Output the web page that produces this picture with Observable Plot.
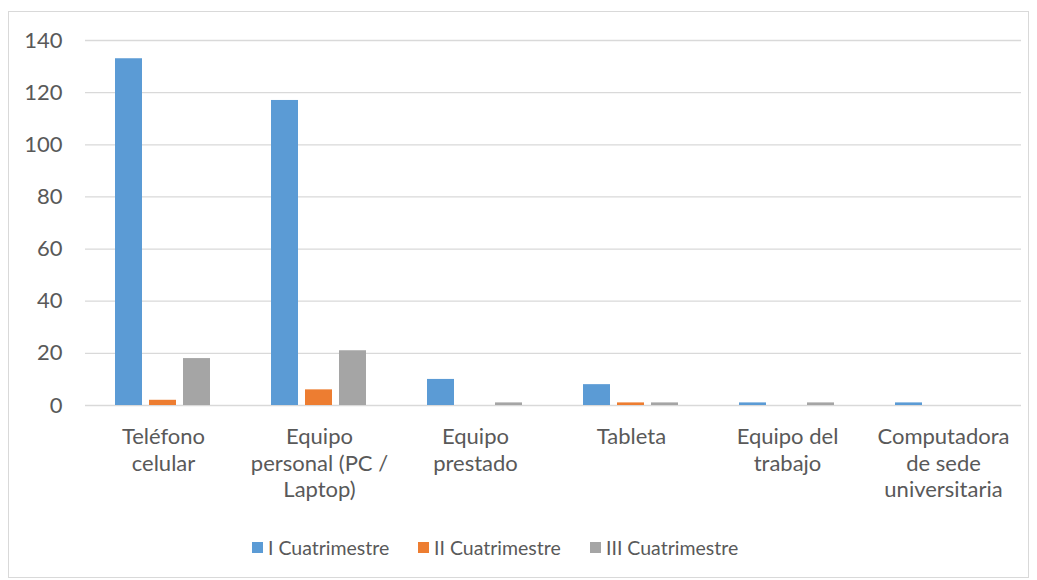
<!DOCTYPE html>
<html>
<head>
<meta charset="utf-8">
<script src="https://cdn.jsdelivr.net/npm/d3@7"></script>
<script src="https://cdn.jsdelivr.net/npm/@observablehq/plot@0.6"></script>
<style>
  html, body { margin: 0; padding: 0; background: #fff; }
  body { width: 1037px; height: 580px; position: relative; overflow: hidden; font-family: Lato, "Open Sans", sans-serif; }
  #frame { position: absolute; left: 8px; top: 11px; width: 1021px; height: 567px; border: 1px solid #d9d9d9; box-sizing: border-box; }
  #chart { position: absolute; left: 0; top: 0; }
  #legend { position: absolute; left: 0; top: 536px; width: 1037px; font-size: 19.5px; color: #595959; }
  .item { position: absolute; display: flex; align-items: center; white-space: nowrap; }
  .sw { width: 11px; height: 11px; margin-right: 5px; }
</style>
</head>
<body>
<div id="frame"></div>
<div id="chart"></div>
<div id="legend"></div>
<script>
const categories = ["Teléfono celular", "Equipo personal (PC / Laptop)", "Equipo prestado", "Tableta", "Equipo del trabajo", "Computadora de sede universitaria"];
const categoryLabels = ["Teléfono\ncelular", "Equipo\npersonal (PC /\nLaptop)", "Equipo\nprestado", "Tableta", "Equipo del\ntrabajo", "Computadora\nde sede\nuniversitaria"];
const seriesNames = ["I Cuatrimestre", "II Cuatrimestre", "III Cuatrimestre"];
const seriesI = [133, 117, 10, 8, 1, 1];
const seriesII = [2, 6, 0, 1, 0, 0];
const seriesIII = [18, 21, 1, 1, 1, 0];
const colors = ["#5b9bd5", "#ed7d31", "#a5a5a5"];
const yTicks = [0, 20, 40, 60, 80, 100, 120, 140];

const seriesValues = [seriesI, seriesII, seriesIII];
const data = [];
categories.forEach((c, i) => {
  seriesNames.forEach((s, j) => data.push({category: c, series: s, value: seriesValues[j][i]}));
});
const labelOf = new Map(categories.map((c, i) => [c, categoryLabels[i]]));

const chart = Plot.plot({
  width: 1037,
  height: 520,
  marginLeft: 85,
  marginRight: 16,
  marginTop: 40,
  marginBottom: 115,
  style: {fontFamily: "Lato, 'Open Sans', sans-serif", fontSize: "22px", color: "#595959", background: "transparent"},
  fx: {domain: categories, padding: 0, axis: null},
  x: {domain: seriesNames, paddingInner: 0.2, paddingOuter: 0.86, axis: null},
  y: {domain: [0, 140], ticks: yTicks, axis: null},
  color: {domain: seriesNames, range: colors},
  marks: [
    Plot.gridY(yTicks, {stroke: "#d9d9d9", strokeOpacity: 1, strokeWidth: 1.3}),
    Plot.axisY(yTicks, {tickSize: 0, tickPadding: 23, fontSize: 22, fill: "#595959", label: null, tickFormat: d => d, facetAnchor: "left"}),
    Plot.barY(data, {fx: "category", x: "series", y: "value", fill: "series"}),
    Plot.axisFx({anchor: "bottom", tickSize: 0, tickPadding: 20, fontSize: 22, fill: "#595959", label: null, lineHeight: 1.2, tickFormat: d => labelOf.get(d)})
  ]
});
document.getElementById("chart").appendChild(chart);

const legend = document.getElementById("legend");
const lefts = [252, 418, 590];
seriesNames.forEach((s, i) => {
  const it = document.createElement("div");
  it.className = "item";
  it.style.left = lefts[i] + "px";
  it.innerHTML = `<span class="sw" style="background:${colors[i]}"></span><span>${s}</span>`;
  legend.appendChild(it);
});
</script>
</body>
</html>
